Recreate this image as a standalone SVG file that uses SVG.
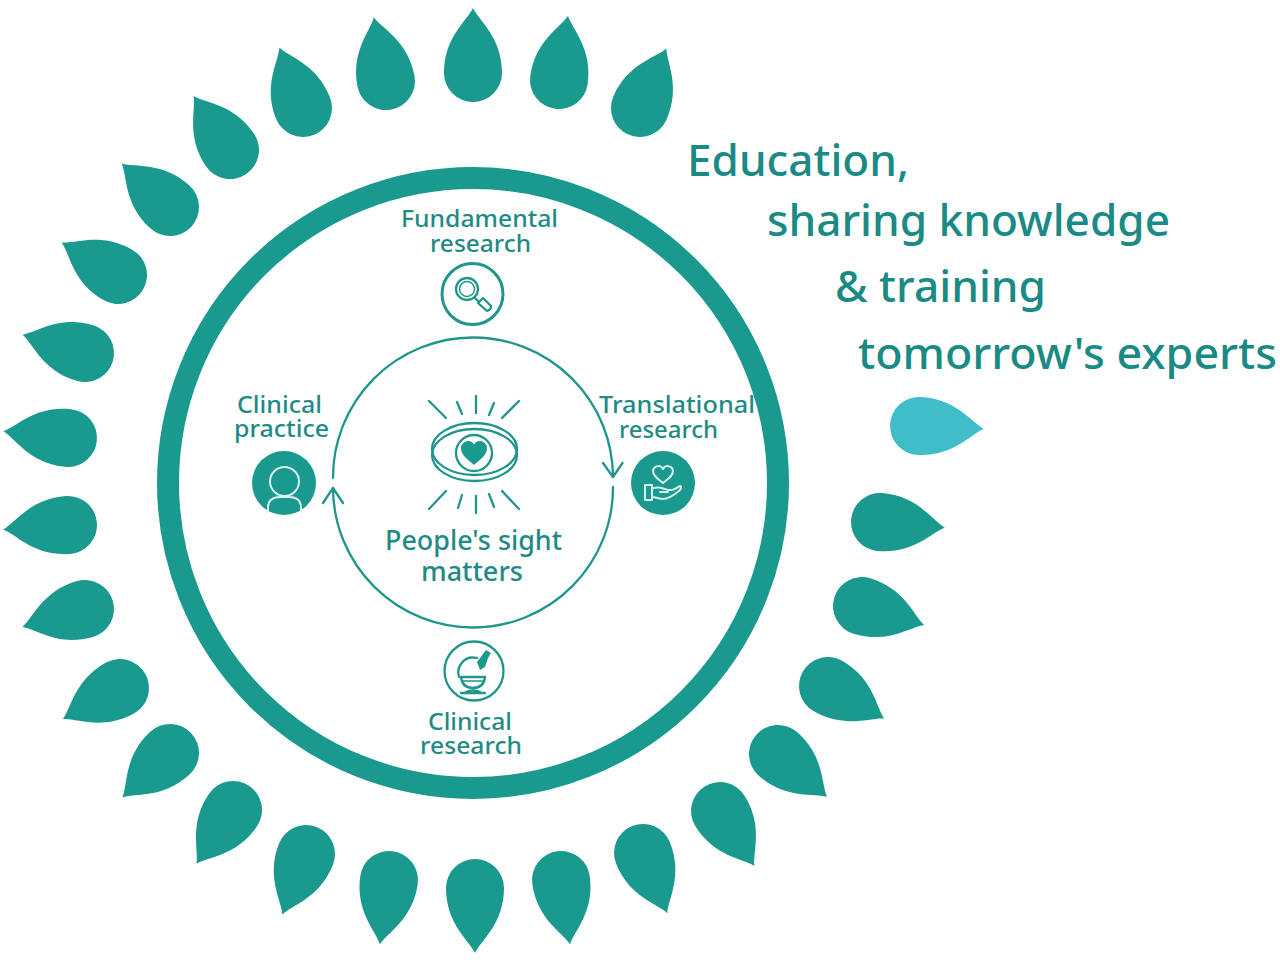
<svg xmlns="http://www.w3.org/2000/svg" width="1280" height="968" viewBox="0 0 1280 968">
<style>
.f{fill:#1a9a8e}
text{font-family:"Noto Sans","Open Sans",sans-serif;font-variant-ligatures:none;font-weight:500}
.big{font-size:44px;fill:#1a8a84}
.lab{font-size:23.500px;fill:#1f8b85}
.mid{font-size:26.500px}
.l{fill:none;stroke:#1f968c;stroke-width:2.300;stroke-linecap:round;stroke-linejoin:round}
.w{fill:none;stroke:#d8f4f0;stroke-width:2;stroke-linecap:round;stroke-linejoin:round}
</style>
<defs>
<path id="drop" d="M0,-65 C-6,-52 -29,-36 -29,0 A29,29 0 0 0 29,0 C29,-36 6,-52 0,-65Z"/>
</defs>
<rect width="1280" height="968" fill="#fff"/>
<g id="petals" class="f">
<use id="petal-01" href="#drop" transform="translate(473,73)"/>
<use id="petal-02" href="#drop" transform="translate(559,80) rotate(8)"/>
<use id="petal-03" href="#drop" transform="translate(640,108) rotate(24)"/>
<use id="petal-04" href="#drop" transform="translate(919,426) rotate(92.500)" fill="#3fbdc9"/>
<use id="petal-05" href="#drop" transform="translate(880,522) rotate(95)"/>
<use id="petal-06" href="#drop" transform="translate(862,606) rotate(107)"/>
<use id="petal-07" href="#drop" transform="translate(828,686) rotate(120)"/>
<use id="petal-08" href="#drop" transform="translate(778,754) rotate(131)"/>
<use id="petal-09" href="#drop" transform="translate(720,811) rotate(148)"/>
<use id="petal-10" href="#drop" transform="translate(643,853) rotate(158)"/>
<use id="petal-11" href="#drop" transform="translate(561,880) rotate(172)"/>
<use id="petal-12" href="#drop" transform="translate(475,888) rotate(180)"/>
<use id="petal-13" href="#drop" transform="translate(389,880) rotate(188)"/>
<use id="petal-14" href="#drop" transform="translate(306,854) rotate(201.300)"/>
<use id="petal-15" href="#drop" transform="translate(233,810) rotate(214.200)"/>
<use id="petal-16" href="#drop" transform="translate(170,753) rotate(227)"/>
<use id="petal-17" href="#drop" transform="translate(120,688) rotate(241.400)"/>
<use id="petal-18" href="#drop" transform="translate(85,609) rotate(254)"/>
<use id="petal-19" href="#drop" transform="translate(68,525) rotate(266)"/>
<use id="petal-20" href="#drop" transform="translate(68,438) rotate(276)"/>
<use id="petal-21" href="#drop" transform="translate(85,353) rotate(286.400)"/>
<use id="petal-22" href="#drop" transform="translate(118,275) rotate(300)"/>
<use id="petal-23" href="#drop" transform="translate(170,207) rotate(312)"/>
<use id="petal-24" href="#drop" transform="translate(230,150) rotate(326)"/>
<use id="petal-25" href="#drop" transform="translate(303,108) rotate(338.700)"/>
<use id="petal-26" href="#drop" transform="translate(386,81) rotate(349.200)"/>
</g>
<g id="ring"><circle cx="473" cy="483" r="305" fill="none" stroke="#1a9a8e" stroke-width="22"/></g>
<g id="connectors" class="l">
<path d="M333,478 A140,140 0 0 1 613,477"/>
<path d="M603,463 L613,477 L622.500,463"/>
<path d="M613,487 A140,140 0 0 1 333,488"/>
<path d="M323,503 L333,488 L343,503"/>
</g>
<g id="eye">
<g class="l">
<ellipse cx="474.500" cy="449" rx="42.500" ry="26"/>
<ellipse cx="474.500" cy="455" rx="42.500" ry="26"/>
<circle cx="474" cy="453" r="18"/>
<path d="M429,401L446,418M457,402L462,414M476,396V413M494,403L489,415M519,401L502,418M446,491L429,509M462,495L458,508M476,496V513M489,494L494,507M502,491L519,509"/>
</g>
<path class="f" d="M474,465 C467,459 461,455 461,448 C461,444 465,441 468,441 C471,441 473,442 474,445 C475,442 477,441 480,441 C483,441 487,444 487,448 C487,455 481,459 474,465Z"/>
<text class="lab mid" x="385" y="550" textLength="177" lengthAdjust="spacingAndGlyphs">People's sight</text>
<text class="lab mid" x="421" y="581" textLength="102" lengthAdjust="spacingAndGlyphs">matters</text>
</g>
<g id="fundamental">
<text class="lab" x="401" y="227" textLength="157" lengthAdjust="spacingAndGlyphs">Fundamental</text>
<text class="lab" x="430" y="252" textLength="101" lengthAdjust="spacingAndGlyphs">research</text>
<g class="l">
<circle cx="472.500" cy="294" r="30.500" stroke-width="3"/>
<circle cx="467" cy="289" r="11"/>
<circle cx="467" cy="289" r="7.500" stroke-width="1.500"/>
<path d="M475,298L479,302"/>
<path d="M478,303L483,298L491,306Q491,310 487,311Z"/>
</g>
</g>
<g id="translational">
<text class="lab" x="599" y="413" textLength="156" lengthAdjust="spacingAndGlyphs">Translational</text>
<text class="lab" x="619" y="438" textLength="99" lengthAdjust="spacingAndGlyphs">research</text>
<circle class="f" cx="663" cy="483" r="32"/>
<path class="w" d="M663,483 C658,479 653,476 653,471 C653,468 656,466 658.500,466 C660.500,466 662,467 663,469 C664,467 665.500,466 667.500,466 C670,466 673,468 673,471 C673,476 668,479 663,483Z"/>
<path class="w" d="M645,485H652V500H645ZM652,489C657,486 662,488 668,490H672C674,490 676,488 680,486C682,486 681,489 679,491C674,495 669,499 663,499C659,499 656,497 652,497M660,492H668"/>
</g>
<g id="practice">
<text class="lab" x="237" y="413" textLength="85" lengthAdjust="spacingAndGlyphs">Clinical</text>
<text class="lab" x="234" y="437" textLength="95" lengthAdjust="spacingAndGlyphs">practice</text>
<circle class="f" cx="284" cy="483" r="32"/>
<circle class="w" cx="284.500" cy="481.500" r="14.500"/>
<path class="w" d="M268,512V508Q268,497 280,497H289Q301,497 301,508V512"/>
</g>
<g id="clinical">
<circle class="l" cx="474" cy="671" r="29.500" stroke-width="3"/>
<g class="l">
<path d="M477,658 C463,655 456,668 459,677"/>
<path d="M461,677H485C484,686 478,688 473,688C467,688 462,686 461,677Z"/>
<path d="M463,681H483" stroke-width="1.500"/>
<path d="M466,692C470,690 476,690 480,692M461,693H485"/>
</g>
<path class="f" d="M477,662L486,650L491,653L488,658L485,667L480,670Z"/>
<text class="lab" x="428" y="730" textLength="84" lengthAdjust="spacingAndGlyphs">Clinical</text>
<text class="lab" x="420" y="754" textLength="102" lengthAdjust="spacingAndGlyphs">research</text>
</g>
<g id="caption">
<text class="big" x="687" y="176" textLength="222" lengthAdjust="spacingAndGlyphs">Education,</text>
<text class="big" x="767" y="236" textLength="403" lengthAdjust="spacingAndGlyphs">sharing knowledge</text>
<text class="big" x="835" y="302" textLength="211" lengthAdjust="spacingAndGlyphs">&amp; training</text>
<text class="big" x="858" y="369" textLength="419" lengthAdjust="spacingAndGlyphs">tomorrow's experts</text>
</g>
</svg>
